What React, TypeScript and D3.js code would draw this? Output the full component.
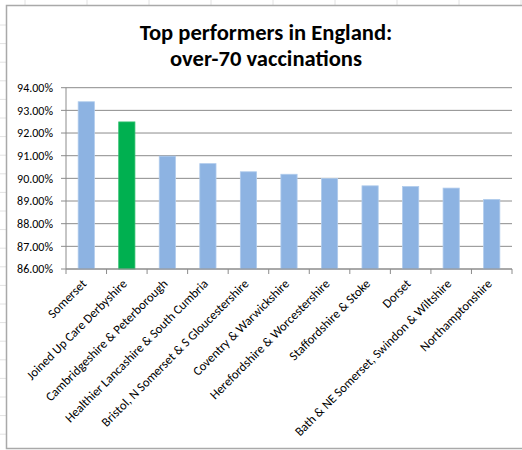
import React from "react";
import * as d3 from "d3";

const categories = [
  "Somerset",
  "Joined Up Care Derbyshire",
  "Cambridgeshire & Peterborough",
  "Healthier Lancashire & South Cumbria",
  "Bristol, N Somerset & S Gloucestershire",
  "Coventry & Warwickshire",
  "Herefordshire & Worcestershire",
  "Staffordshire & Stoke",
  "Dorset",
  "Bath & NE Somerset, Swindon & Wiltshire",
  "Northamptonshire",
];
const values = [93.38, 92.49, 90.98, 90.65, 90.29, 90.18, 89.99, 89.67, 89.64, 89.57, 89.07];
const highlighted = ["Joined Up Care Derbyshire"];
const yTicks = [86, 87, 88, 89, 90, 91, 92, 93, 94];
const titleLines = ["Top performers in England:", "over-70 vaccinations"];

const W = 522;
const H = 450;
const FONT = "Carlito, Calibri, Lato, 'Open Sans', sans-serif";

export default function App() {
  const left = 66;
  const right = 512;
  const top = 87.7;
  const bottom = 269;

  const x = d3.scaleBand<string>().domain(categories).range([left, right]).paddingInner(0.6).paddingOuter(0.3);
  const xb = d3.scaleBand<string>().domain(categories).range([left, right]);
  const y = d3.scaleLinear().domain([86, 94]).range([bottom, top]);

  const colX = d3.range(0, 10).map((i) => 25 + i * 62);
  const rowY = d3.range(0, 25).map((i) => 25 + i * 18.6);

  return (
    <svg
      width={W}
      height={H}
      style={{ position: "absolute", left: 0, top: 0, background: "#fff" }}
      fontFamily={FONT}
    >
      {colX.map((cx) => (
        <line key={"c" + cx} x1={cx} x2={cx} y1={0} y2={5} stroke="#e2e2e2" strokeWidth={1} />
      ))}
      {rowY.map((ry) => (
        <line key={"r" + ry} x1={0} x2={6} y1={ry} y2={ry} stroke="#e2e2e2" strokeWidth={1} />
      ))}
      <rect x={6.5} y={5.5} width={530} height={443} fill="#fff" stroke="#a9a9a9" strokeWidth={1.5} />

      <text x={266} y={39.5} textAnchor="middle" fontSize={22.6} fontWeight="bold" fill="#000">
        {titleLines[0]}
      </text>
      <text x={266} y={65.5} textAnchor="middle" fontSize={22.6} fontWeight="bold" fill="#000">
        {titleLines[1]}
      </text>

      {yTicks.map((t) => (
        <line key={"g" + t} x1={left} x2={right} y1={y(t)} y2={y(t)} stroke="#8c8c8c" strokeWidth={1} />
      ))}

      {categories.map((c, i) => (
        <rect
          key={c}
          x={x(c)}
          y={y(values[i])}
          width={x.bandwidth()}
          height={bottom - y(values[i])}
          fill={highlighted.includes(c) ? "#00B050" : "#8DB3E2"}
          stroke={highlighted.includes(c) ? "#33c070" : "#b0cbec"}
          strokeWidth={0.8}
        />
      ))}

      <line x1={left} x2={left} y1={top} y2={bottom} stroke="#8c8c8c" strokeWidth={1} />
      {yTicks.map((t) => (
        <g key={"yt" + t}>
          <line x1={left - 5} x2={left} y1={y(t)} y2={y(t)} stroke="#8c8c8c" strokeWidth={1} />
          <text x={53} y={y(t) + 4.3} textAnchor="end" fontSize={12} fill="#000">
            {t.toFixed(2) + "%"}
          </text>
        </g>
      ))}

      <line x1={left} x2={right} y1={bottom} y2={bottom} stroke="#8c8c8c" strokeWidth={1} />
      {categories.map((c) => (
        <line key={"xt" + c} x1={xb(c)} x2={xb(c)} y1={bottom} y2={bottom + 5} stroke="#8c8c8c" strokeWidth={1} />
      ))}
      <line x1={right} x2={right} y1={bottom} y2={bottom + 5} stroke="#8c8c8c" strokeWidth={1} />
      {categories.map((c) => {
        const cx = (xb(c) as number) + xb.bandwidth() / 2 + 1;
        const cy = bottom + 15.5;
        return (
          <text
            key={"xl" + c}
            transform={`translate(${cx},${cy}) rotate(-45)`}
            textAnchor="end"
            fontSize={12.7}
            fill="#000"
          >
            {c}
          </text>
        );
      })}
    </svg>
  );
}
